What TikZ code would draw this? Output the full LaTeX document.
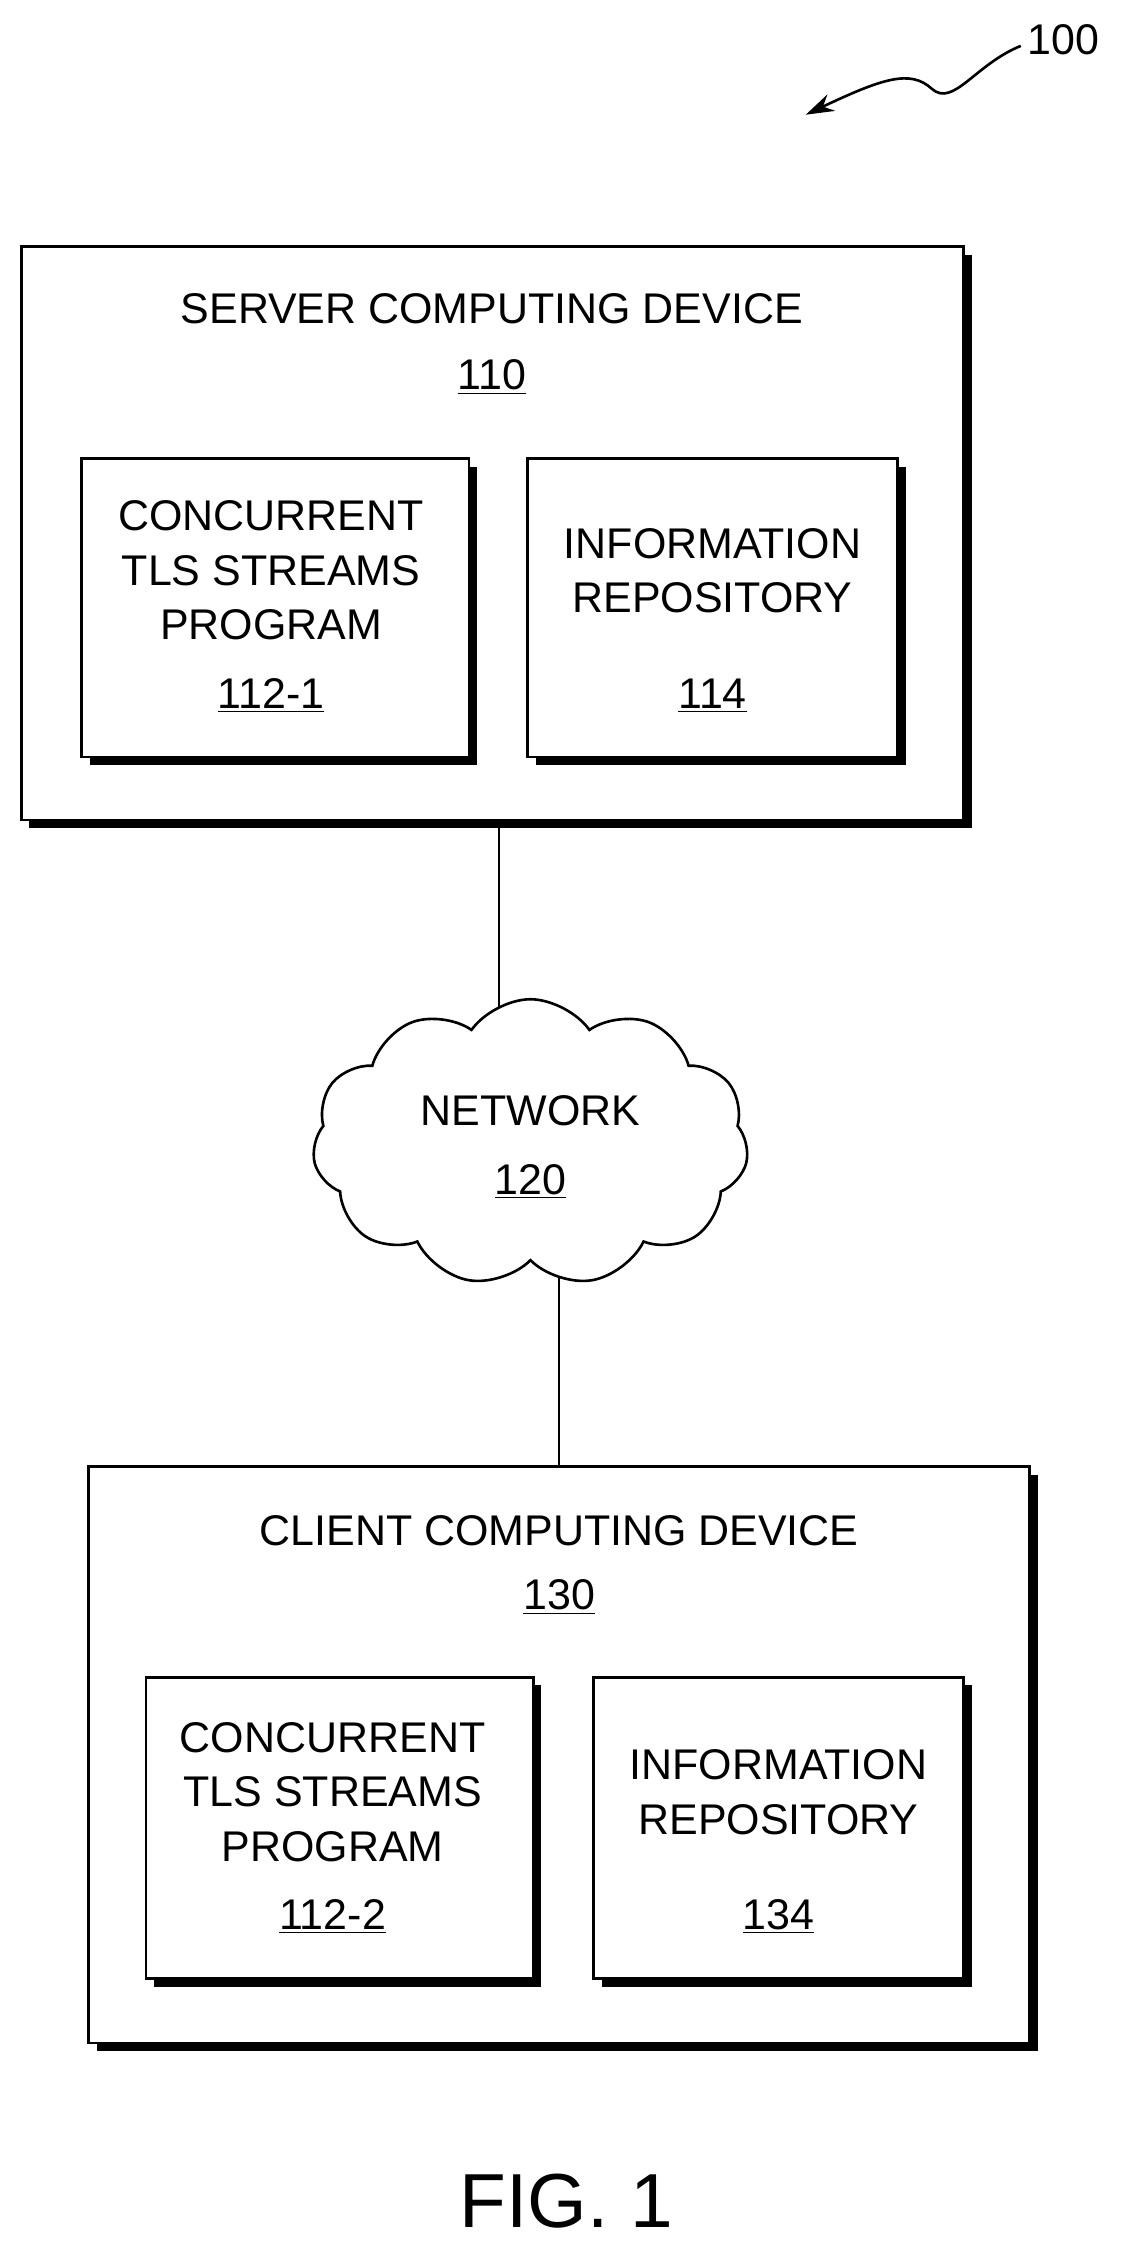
\documentclass[tikz,border=0pt]{standalone}
\usepackage{fontspec}
\setmainfont{Liberation Sans}
\usetikzlibrary{arrows.meta}
\usetikzlibrary{shapes.symbols}
\usetikzlibrary{shadows}

\begin{document}
\begin{tikzpicture}[x=0.025cm,y=-0.025cm,>/.tip={Stealth[length=14pt,width=9pt]},
	box/.style={draw,fill=white,line width=1.3pt,drop shadow={shadow xshift=4pt,shadow yshift=-4pt,fill=black,opacity=1}},
	lbl/.style={font=\fontsize{21.3}{24}\selectfont,align=center}]
	\useasboundingbox (0,0) rectangle (790,1568);

	\node (server) at (343.5,372) [box,minimum width=16.425cm,minimum height=10cm] {};
	\node (client) at (390,1224) [box,minimum width=16.4cm,minimum height=10.05cm] {};
	\node (prog1) at (192,424) [box,minimum width=6.75cm,minimum height=5.2cm] {};
	\node (repo1) at (497,424) [box,minimum width=6.45cm,minimum height=5.2cm] {};
	\node (prog2) at (237,1275) [box,minimum width=6.75cm,minimum height=5.25cm] {};
	\node (repo2) at (543,1275) [box,minimum width=6.45cm,minimum height=5.25cm] {};

	\node (stitle) at (343,215) [lbl] {SERVER COMPUTING DEVICE};
	\node (snum) at (343,263) [lbl] {\underline{110}};
	\node (p1) at (189,398) [lbl] {CONCURRENT\\[3pt]TLS STREAMS\\[3pt]PROGRAM};
	\node (p1num) at (189,485) [lbl] {\underline{112-1}};
	\node (r1) at (497,398) [lbl] {INFORMATION\\[3pt]REPOSITORY};
	\node (r1num) at (497,485) [lbl] {\underline{114}};

	\node (ctitle) at (390,1068) [lbl] {CLIENT COMPUTING DEVICE};
	\node (cnum) at (390,1114) [lbl] {\underline{130}};
	\node (p2) at (232,1250) [lbl] {CONCURRENT\\[3pt]TLS STREAMS\\[3pt]PROGRAM};
	\node (p2num) at (232,1337) [lbl] {\underline{112-2}};
	\node (r2) at (543,1250) [lbl] {INFORMATION\\[3pt]REPOSITORY};
	\node (r2num) at (543,1337) [lbl] {\underline{134}};

	\draw[line width=1.3pt] (server.south) ++(4.5,0) coordinate (sdown) -- ++(0,140);
	\draw[line width=1.3pt] (client.north) -- ++(0,-140);

	\node (net) at (370,797) [cloud,cloud puffs=11,cloud puff arc=110,aspect=1.5,draw,fill=white,line width=1.3pt,minimum width=7.6cm,minimum height=5cm] {};
	\node (ntitle) at (370,775) [lbl] {NETWORK};
	\node (nnum) at (370,824) [lbl] {\underline{120}};

	\node (fig) at (395,1535) [font=\fontsize{38}{44}\selectfont] {FIG. 1};
	\node (ref) at (742,28) [lbl] {100};
	\coordinate (tip) at (562,80);
	\draw[line width=1.3pt,->] (712,32) .. controls (680,45) and (665,75) .. (650,62)
		.. controls (635,48) and (615,55) .. (tip);
\end{tikzpicture}
\end{document}
